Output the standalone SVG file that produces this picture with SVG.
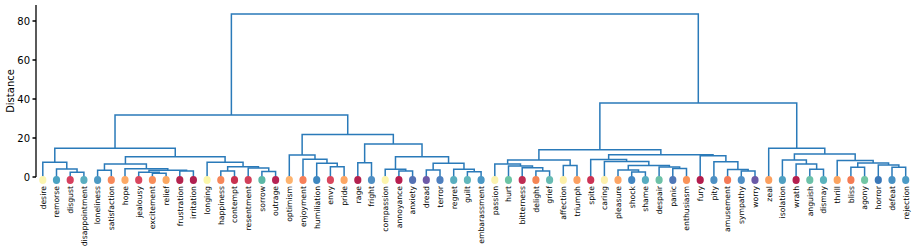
<svg xmlns="http://www.w3.org/2000/svg" width="918" height="252" viewBox="0 0 918 252">
<style>
.c{fill:none;stroke:#2a7ab9;stroke-width:1.5;stroke-linejoin:miter}
.ax{stroke:#000;stroke-width:1.3;fill:none}
.tk{font-family:"DejaVu Sans",sans-serif;font-size:10px;fill:#000;text-anchor:end}
.yl{font-family:"DejaVu Sans",sans-serif;font-size:10px;fill:#000;text-anchor:middle}
.lb{font-family:"DejaVu Sans",sans-serif;font-size:7.7px;fill:#000;text-anchor:end}
</style>
<rect width="918" height="252" fill="#fff"/>
<g id="axis">
<path class="ax" d="M36,5V177"/>
<path class="ax" d="M32.5,177H36M32.5,138H36M32.5,99H36M32.5,60H36M32.5,21H36"/>
<text class="tk" x="30" y="180.5">0</text>
<text class="tk" x="30" y="141.5">20</text>
<text class="tk" x="30" y="102.5">40</text>
<text class="tk" x="30" y="63.5">60</text>
<text class="tk" x="30" y="24.5">80</text>
<text class="yl" transform="translate(14,91) rotate(-90)">Distance</text>
</g>
<g id="connectors">
<path class="c" d="M70.2,177V172.3H83.9V177"/>
<path class="c" d="M56.5,177V169H77.05V172.3"/>
<path class="c" d="M42.8,177V162.3H66.78V169"/>
<path class="c" d="M97.6,177V170.3H111.3V177"/>
<path class="c" d="M152.4,177V173.3H166.1V177"/>
<path class="c" d="M138.7,177V172.3H159.25V173.3"/>
<path class="c" d="M179.8,177V171H193.4V177"/>
<path class="c" d="M148.98,172.3V170.3H186.6V171"/>
<path class="c" d="M125,177V168.8H167.79V170.3"/>
<path class="c" d="M104.45,170.3V164H146.39V168.8"/>
<path class="c" d="M220.8,177V171H234.5V177"/>
<path class="c" d="M261.9,177V171.5H275.6V177"/>
<path class="c" d="M248.2,177V168H268.75V171.5"/>
<path class="c" d="M227.65,171V166.7H258.48V168"/>
<path class="c" d="M207.1,177V162.3H243.06V166.7"/>
<path class="c" d="M125.42,164V156.7H225.08V162.3"/>
<path class="c" d="M54.79,162.3V148.3H175.25V156.7"/>
<path class="c" d="M330.4,177V166.7H344.1V177"/>
<path class="c" d="M316.7,177V163.3H337.25V166.7"/>
<path class="c" d="M303,177V159.3H326.98V163.3"/>
<path class="c" d="M289.3,177V155H314.99V159.3"/>
<path class="c" d="M357.8,177V162.7H371.5V177"/>
<path class="c" d="M398.9,177V171H412.6V177"/>
<path class="c" d="M385.2,177V169.3H405.75V171"/>
<path class="c" d="M426.3,177V170H440V177"/>
<path class="c" d="M467.4,177V171.7H481.1V177"/>
<path class="c" d="M453.7,177V169.3H474.25V171.7"/>
<path class="c" d="M433.15,170V163.3H463.98V169.3"/>
<path class="c" d="M395.48,169.3V156.7H448.56V163.3"/>
<path class="c" d="M364.65,162.7V144H422.02V156.7"/>
<path class="c" d="M302.14,155V134.5H393.33V144"/>
<path class="c" d="M115.02,148.3V115H347.74V134.5"/>
<path class="c" d="M535.9,177V171H549.6V177"/>
<path class="c" d="M522.2,177V167.7H542.75V171"/>
<path class="c" d="M508.5,177V166H532.48V167.7"/>
<path class="c" d="M494.8,177V164H520.49V166"/>
<path class="c" d="M563.3,177V165.5H577V177"/>
<path class="c" d="M507.64,164V160H570.15V165.5"/>
<path class="c" d="M631.7,177V172H645.4V177"/>
<path class="c" d="M618,177V170H638.55V172"/>
<path class="c" d="M672.8,177V168.5H686.5V177"/>
<path class="c" d="M659.1,177V167H679.65V168.5"/>
<path class="c" d="M628.28,170V165.5H669.38V167"/>
<path class="c" d="M604.4,177V161.5H648.83V165.5"/>
<path class="c" d="M590.7,177V159.5H626.61V161.5"/>
<path class="c" d="M741.3,177V171H755V177"/>
<path class="c" d="M727.6,177V169.5H748.15V171"/>
<path class="c" d="M713.9,177V161.7H737.88V169.5"/>
<path class="c" d="M700.2,177V155.8H725.89V161.7"/>
<path class="c" d="M608.66,159.5V154.8H713.04V155.8"/>
<path class="c" d="M538.9,160V149.8H660.85V154.8"/>
<path class="c" d="M809.8,177V169.3H823.5V177"/>
<path class="c" d="M796.1,177V164H816.65V169.3"/>
<path class="c" d="M782.4,177V160H806.38V164"/>
<path class="c" d="M850.9,177V167.3H864.6V177"/>
<path class="c" d="M892,177V167.3H905.7V177"/>
<path class="c" d="M878.3,177V165H898.85V167.3"/>
<path class="c" d="M857.75,167.3V163H888.58V165"/>
<path class="c" d="M837.2,177V160.5H873.16V163"/>
<path class="c" d="M794.39,160V154H855.18V160.5"/>
<path class="c" d="M768.7,177V148.3H824.79V154"/>
<path class="c" d="M599.87,149.8V103H796.74V148.3"/>
<path class="c" d="M231.38,115V14H698.3V103"/>
</g>
<g id="n-desire"><ellipse cx="42.8" cy="180" rx="3.6" ry="4" fill="#fbf5b0"/><text class="lb" transform="translate(45.6,186) rotate(-90)">desire</text></g>
<g id="n-remorse"><ellipse cx="56.5" cy="180" rx="3.6" ry="4" fill="#4ba3c3"/><text class="lb" transform="translate(59.3,186) rotate(-90)">remorse</text></g>
<g id="n-disgust"><ellipse cx="70.2" cy="180" rx="3.6" ry="4" fill="#d6405e"/><text class="lb" transform="translate(73,186) rotate(-90)">disgust</text></g>
<g id="n-disappointment"><ellipse cx="83.9" cy="180" rx="3.6" ry="4" fill="#5aaec0"/><text class="lb" transform="translate(86.7,186) rotate(-90)">disappointment</text></g>
<g id="n-loneliness"><ellipse cx="97.6" cy="180" rx="3.6" ry="4" fill="#4d9ac4"/><text class="lb" transform="translate(100.4,186) rotate(-90)">loneliness</text></g>
<g id="n-satisfaction"><ellipse cx="111.3" cy="180" rx="3.6" ry="4" fill="#f7895b"/><text class="lb" transform="translate(114.1,186) rotate(-90)">satisfaction</text></g>
<g id="n-hope"><ellipse cx="125" cy="180" rx="3.6" ry="4" fill="#fdaa66"/><text class="lb" transform="translate(127.8,186) rotate(-90)">hope</text></g>
<g id="n-jealousy"><ellipse cx="138.7" cy="180" rx="3.6" ry="4" fill="#d9475e"/><text class="lb" transform="translate(141.5,186) rotate(-90)">jealousy</text></g>
<g id="n-excitement"><ellipse cx="152.4" cy="180" rx="3.6" ry="4" fill="#f88d5a"/><text class="lb" transform="translate(155.2,186) rotate(-90)">excitement</text></g>
<g id="n-relief"><ellipse cx="166.1" cy="180" rx="3.6" ry="4" fill="#fba862"/><text class="lb" transform="translate(168.9,186) rotate(-90)">relief</text></g>
<g id="n-frustration"><ellipse cx="179.8" cy="180" rx="3.6" ry="4" fill="#b5244e"/><text class="lb" transform="translate(182.6,186) rotate(-90)">frustration</text></g>
<g id="n-irritation"><ellipse cx="193.4" cy="180" rx="3.6" ry="4" fill="#b02050"/><text class="lb" transform="translate(196.2,186) rotate(-90)">irritation</text></g>
<g id="n-longing"><ellipse cx="207.1" cy="180" rx="3.6" ry="4" fill="#fbf6a9"/><text class="lb" transform="translate(209.9,186) rotate(-90)">longing</text></g>
<g id="n-happiness"><ellipse cx="220.8" cy="180" rx="3.6" ry="4" fill="#f6875a"/><text class="lb" transform="translate(223.6,186) rotate(-90)">happiness</text></g>
<g id="n-contempt"><ellipse cx="234.5" cy="180" rx="3.6" ry="4" fill="#c8314f"/><text class="lb" transform="translate(237.3,186) rotate(-90)">contempt</text></g>
<g id="n-resentment"><ellipse cx="248.2" cy="180" rx="3.6" ry="4" fill="#d2405a"/><text class="lb" transform="translate(251,186) rotate(-90)">resentment</text></g>
<g id="n-sorrow"><ellipse cx="261.9" cy="180" rx="3.6" ry="4" fill="#5bb8a6"/><text class="lb" transform="translate(264.7,186) rotate(-90)">sorrow</text></g>
<g id="n-outrage"><ellipse cx="275.6" cy="180" rx="3.6" ry="4" fill="#b72455"/><text class="lb" transform="translate(278.4,186) rotate(-90)">outrage</text></g>
<g id="n-optimism"><ellipse cx="289.3" cy="180" rx="3.6" ry="4" fill="#fdb36e"/><text class="lb" transform="translate(292.1,186) rotate(-90)">optimism</text></g>
<g id="n-enjoyment"><ellipse cx="303" cy="180" rx="3.6" ry="4" fill="#f77f59"/><text class="lb" transform="translate(305.8,186) rotate(-90)">enjoyment</text></g>
<g id="n-humiliation"><ellipse cx="316.7" cy="180" rx="3.6" ry="4" fill="#3f88c0"/><text class="lb" transform="translate(319.5,186) rotate(-90)">humiliation</text></g>
<g id="n-envy"><ellipse cx="330.4" cy="180" rx="3.6" ry="4" fill="#d9475e"/><text class="lb" transform="translate(333.2,186) rotate(-90)">envy</text></g>
<g id="n-pride"><ellipse cx="344.1" cy="180" rx="3.6" ry="4" fill="#fda765"/><text class="lb" transform="translate(346.9,186) rotate(-90)">pride</text></g>
<g id="n-rage"><ellipse cx="357.8" cy="180" rx="3.6" ry="4" fill="#b3224f"/><text class="lb" transform="translate(360.6,186) rotate(-90)">rage</text></g>
<g id="n-fright"><ellipse cx="371.5" cy="180" rx="3.6" ry="4" fill="#4f8fc4"/><text class="lb" transform="translate(374.3,186) rotate(-90)">fright</text></g>
<g id="n-compassion"><ellipse cx="385.2" cy="180" rx="3.6" ry="4" fill="#fdf5ad"/><text class="lb" transform="translate(388,186) rotate(-90)">compassion</text></g>
<g id="n-annoyance"><ellipse cx="398.9" cy="180" rx="3.6" ry="4" fill="#b81e4f"/><text class="lb" transform="translate(401.7,186) rotate(-90)">annoyance</text></g>
<g id="n-anxiety"><ellipse cx="412.6" cy="180" rx="3.6" ry="4" fill="#5572b4"/><text class="lb" transform="translate(415.4,186) rotate(-90)">anxiety</text></g>
<g id="n-dread"><ellipse cx="426.3" cy="180" rx="3.6" ry="4" fill="#6e5aa8"/><text class="lb" transform="translate(429.1,186) rotate(-90)">dread</text></g>
<g id="n-terror"><ellipse cx="440" cy="180" rx="3.6" ry="4" fill="#4e7fbe"/><text class="lb" transform="translate(442.8,186) rotate(-90)">terror</text></g>
<g id="n-regret"><ellipse cx="453.7" cy="180" rx="3.6" ry="4" fill="#5aaebf"/><text class="lb" transform="translate(456.5,186) rotate(-90)">regret</text></g>
<g id="n-guilt"><ellipse cx="467.4" cy="180" rx="3.6" ry="4" fill="#62b7bc"/><text class="lb" transform="translate(470.2,186) rotate(-90)">guilt</text></g>
<g id="n-embarassment"><ellipse cx="481.1" cy="180" rx="3.6" ry="4" fill="#4a98c6"/><text class="lb" transform="translate(483.9,186) rotate(-90)">embarassment</text></g>
<g id="n-passion"><ellipse cx="494.8" cy="180" rx="3.6" ry="4" fill="#fbf3b0"/><text class="lb" transform="translate(497.6,186) rotate(-90)">passion</text></g>
<g id="n-hurt"><ellipse cx="508.5" cy="180" rx="3.6" ry="4" fill="#6cc4a4"/><text class="lb" transform="translate(511.3,186) rotate(-90)">hurt</text></g>
<g id="n-bitterness"><ellipse cx="522.2" cy="180" rx="3.6" ry="4" fill="#be2d53"/><text class="lb" transform="translate(525,186) rotate(-90)">bitterness</text></g>
<g id="n-delight"><ellipse cx="535.9" cy="180" rx="3.6" ry="4" fill="#f58554"/><text class="lb" transform="translate(538.7,186) rotate(-90)">delight</text></g>
<g id="n-grief"><ellipse cx="549.6" cy="180" rx="3.6" ry="4" fill="#66bab2"/><text class="lb" transform="translate(552.4,186) rotate(-90)">grief</text></g>
<g id="n-affection"><ellipse cx="563.3" cy="180" rx="3.6" ry="4" fill="#fdf0a8"/><text class="lb" transform="translate(566.1,186) rotate(-90)">affection</text></g>
<g id="n-triumph"><ellipse cx="577" cy="180" rx="3.6" ry="4" fill="#fca061"/><text class="lb" transform="translate(579.8,186) rotate(-90)">triumph</text></g>
<g id="n-spite"><ellipse cx="590.7" cy="180" rx="3.6" ry="4" fill="#cc3355"/><text class="lb" transform="translate(593.5,186) rotate(-90)">spite</text></g>
<g id="n-caring"><ellipse cx="604.4" cy="180" rx="3.6" ry="4" fill="#fdf0ac"/><text class="lb" transform="translate(607.2,186) rotate(-90)">caring</text></g>
<g id="n-pleasure"><ellipse cx="618" cy="180" rx="3.6" ry="4" fill="#fca565"/><text class="lb" transform="translate(620.8,186) rotate(-90)">pleasure</text></g>
<g id="n-shock"><ellipse cx="631.7" cy="180" rx="3.6" ry="4" fill="#4286c2"/><text class="lb" transform="translate(634.5,186) rotate(-90)">shock</text></g>
<g id="n-shame"><ellipse cx="645.4" cy="180" rx="3.6" ry="4" fill="#57acc0"/><text class="lb" transform="translate(648.2,186) rotate(-90)">shame</text></g>
<g id="n-despair"><ellipse cx="659.1" cy="180" rx="3.6" ry="4" fill="#6dc1a7"/><text class="lb" transform="translate(661.9,186) rotate(-90)">despair</text></g>
<g id="n-panic"><ellipse cx="672.8" cy="180" rx="3.6" ry="4" fill="#5078b8"/><text class="lb" transform="translate(675.6,186) rotate(-90)">panic</text></g>
<g id="n-enthusiasm"><ellipse cx="686.5" cy="180" rx="3.6" ry="4" fill="#fa9359"/><text class="lb" transform="translate(689.3,186) rotate(-90)">enthusiasm</text></g>
<g id="n-fury"><ellipse cx="700.2" cy="180" rx="3.6" ry="4" fill="#b31d4d"/><text class="lb" transform="translate(703,186) rotate(-90)">fury</text></g>
<g id="n-pity"><ellipse cx="713.9" cy="180" rx="3.6" ry="4" fill="#4d90c4"/><text class="lb" transform="translate(716.7,186) rotate(-90)">pity</text></g>
<g id="n-amusement"><ellipse cx="727.6" cy="180" rx="3.6" ry="4" fill="#f57a56"/><text class="lb" transform="translate(730.4,186) rotate(-90)">amusement</text></g>
<g id="n-sympathy"><ellipse cx="741.3" cy="180" rx="3.6" ry="4" fill="#4f8fc6"/><text class="lb" transform="translate(744.1,186) rotate(-90)">sympathy</text></g>
<g id="n-worry"><ellipse cx="755" cy="180" rx="3.6" ry="4" fill="#6b5aa7"/><text class="lb" transform="translate(757.8,186) rotate(-90)">worry</text></g>
<g id="n-zeal"><ellipse cx="768.7" cy="180" rx="3.6" ry="4" fill="#fba05f"/><text class="lb" transform="translate(771.5,186) rotate(-90)">zeal</text></g>
<g id="n-isolation"><ellipse cx="782.4" cy="180" rx="3.6" ry="4" fill="#4fa0c2"/><text class="lb" transform="translate(785.2,186) rotate(-90)">isolation</text></g>
<g id="n-wrath"><ellipse cx="796.1" cy="180" rx="3.6" ry="4" fill="#b5204f"/><text class="lb" transform="translate(798.9,186) rotate(-90)">wrath</text></g>
<g id="n-anguish"><ellipse cx="809.8" cy="180" rx="3.6" ry="4" fill="#6cc1a8"/><text class="lb" transform="translate(812.6,186) rotate(-90)">anguish</text></g>
<g id="n-dismay"><ellipse cx="823.5" cy="180" rx="3.6" ry="4" fill="#5ab3bd"/><text class="lb" transform="translate(826.3,186) rotate(-90)">dismay</text></g>
<g id="n-thrill"><ellipse cx="837.2" cy="180" rx="3.6" ry="4" fill="#fca45f"/><text class="lb" transform="translate(840,186) rotate(-90)">thrill</text></g>
<g id="n-bliss"><ellipse cx="850.9" cy="180" rx="3.6" ry="4" fill="#f47c54"/><text class="lb" transform="translate(853.7,186) rotate(-90)">bliss</text></g>
<g id="n-agony"><ellipse cx="864.6" cy="180" rx="3.6" ry="4" fill="#72c6a4"/><text class="lb" transform="translate(867.4,186) rotate(-90)">agony</text></g>
<g id="n-horror"><ellipse cx="878.3" cy="180" rx="3.6" ry="4" fill="#3b78b8"/><text class="lb" transform="translate(881.1,186) rotate(-90)">horror</text></g>
<g id="n-defeat"><ellipse cx="892" cy="180" rx="3.6" ry="4" fill="#4791c4"/><text class="lb" transform="translate(894.8,186) rotate(-90)">defeat</text></g>
<g id="n-rejection"><ellipse cx="905.7" cy="180" rx="3.6" ry="4" fill="#4b9bc6"/><text class="lb" transform="translate(908.5,186) rotate(-90)">rejection</text></g>
</svg>
